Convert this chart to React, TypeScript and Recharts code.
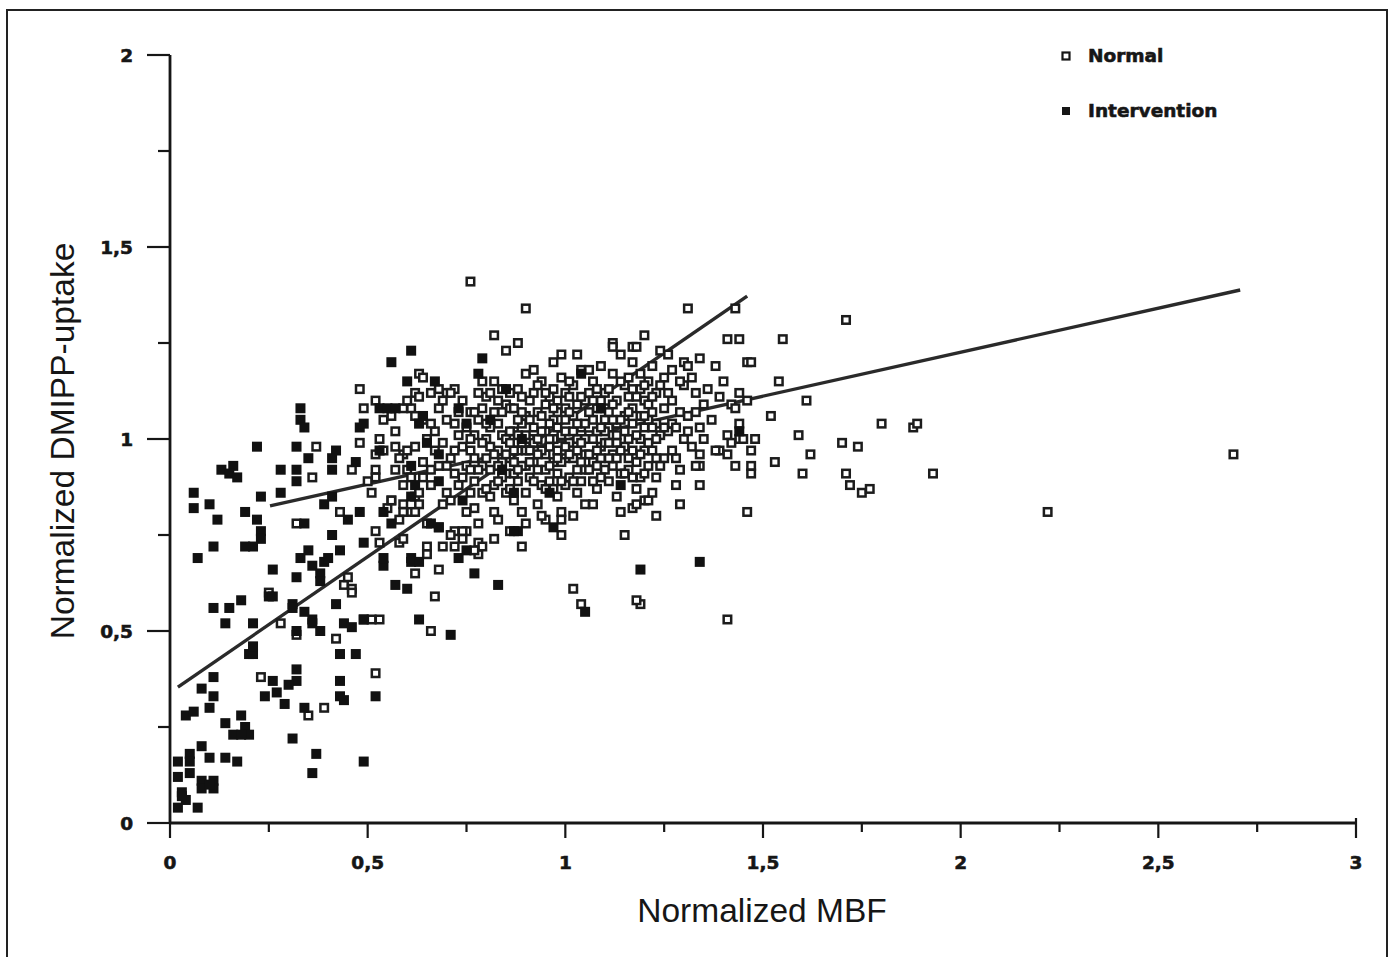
import React from 'react';
import { ScatterChart, Scatter, XAxis, YAxis, ReferenceLine, Legend, Label } from 'recharts';

// ---------- axis ticks ----------
const xTicks = [0, 0.25, 0.5, 0.75, 1, 1.25, 1.5, 1.75, 2, 2.25, 2.5, 2.75, 3];
const yTicks = [0, 0.25, 0.5, 0.75, 1, 1.25, 1.5, 1.75, 2];

// ---------- Normal (hollow squares) ----------
const normalOutliers: [number, number][] = [
  [0.76, 1.41], [0.90, 1.34], [0.82, 1.27], [0.85, 1.23], [0.88, 1.25], [0.99, 1.22], [1.17, 1.24], [1.12, 1.25],
  [1.12, 1.24], [1.31, 1.34], [1.43, 1.34], [1.71, 1.31], [1.20, 1.27], [1.41, 1.26], [1.44, 1.26], [1.55, 1.26],
  [1.34, 1.21], [1.46, 1.20], [1.47, 1.20], [1.54, 1.15], [1.61, 1.10], [1.42, 1.09], [1.46, 1.10], [1.52, 1.06],
  [1.44, 1.04], [1.59, 1.01], [1.70, 0.99], [1.39, 0.97], [1.41, 0.96], [1.44, 1.00], [1.45, 1.00], [1.48, 1.00],
  [1.47, 0.97], [1.43, 0.93], [1.47, 0.93], [1.47, 0.91], [1.53, 0.94], [1.62, 0.96], [1.60, 0.91], [1.71, 0.91],
  [1.72, 0.88], [1.75, 0.86], [1.77, 0.87], [1.80, 1.04], [1.88, 1.03], [1.89, 1.04], [1.74, 0.98], [1.93, 0.91],
  [2.22, 0.81], [2.69, 0.96], [1.34, 0.93], [1.34, 0.88], [1.29, 0.83], [1.23, 0.80], [1.20, 0.84], [1.21, 0.84],
  [1.17, 0.82], [1.46, 0.81], [1.19, 0.57], [1.41, 0.53], [0.95, 0.79], [0.99, 0.79], [0.99, 0.75], [0.89, 0.72],
  [1.15, 0.75], [1.02, 0.61], [1.04, 0.57], [1.18, 0.58], [0.67, 0.59], [0.66, 0.50], [0.68, 0.66], [0.65, 0.72],
  [0.65, 0.70], [0.78, 0.73], [0.78, 0.70], [0.75, 0.76], [0.72, 0.76], [0.72, 0.72],
];

const normalLeft: [number, number][] = [
  [0.25, 0.60], [0.28, 0.52], [0.32, 0.49], [0.44, 0.62], [0.46, 0.61], [0.46, 0.60], [0.45, 0.64], [0.42, 0.48],
  [0.49, 0.53], [0.51, 0.53], [0.53, 0.53], [0.52, 0.39], [0.23, 0.38], [0.35, 0.28], [0.39, 0.30], [0.62, 0.65],
  [0.48, 1.13], [0.49, 1.08], [0.52, 1.10], [0.59, 1.08], [0.61, 1.08], [0.62, 1.12], [0.63, 1.17], [0.64, 1.16],
  [0.37, 0.98], [0.48, 0.99], [0.36, 0.90], [0.46, 0.92], [0.52, 0.92], [0.54, 0.97], [0.57, 0.98], [0.59, 0.96],
  [0.57, 0.92], [0.52, 0.90], [0.51, 0.86], [0.56, 0.84], [0.59, 0.83], [0.62, 0.85], [0.63, 0.83], [0.61, 0.81],
  [0.59, 0.81], [0.43, 0.81], [0.32, 0.78], [0.52, 0.76], [0.53, 0.73], [0.58, 0.73], [0.59, 0.74],
  [0.52, 0.96], [0.54, 1.05], [0.50, 0.89], [0.55, 0.82], [0.53, 1.00],
];

const normalCluster: [number, number][] = [
  [0.56, 0.84], [0.58, 0.95], [0.57, 1.02], [0.59, 0.88], [0.60, 1.10], [0.58, 0.79], [0.56, 1.06], [0.60, 0.92],
  [0.62, 0.98], [0.63, 0.86], [0.64, 1.05], [0.61, 0.90], [0.65, 0.78], [0.63, 1.11], [0.64, 0.94], [0.62, 0.81], [0.65, 1.00],
  [0.66, 0.88], [0.67, 0.97], [0.68, 1.08], [0.69, 0.83], [0.70, 0.93], [0.67, 1.02], [0.68, 0.77], [0.70, 1.12], [0.66, 0.92], [0.69, 0.99], [0.70, 0.86],
  [0.71, 0.95], [0.72, 1.04], [0.73, 0.88], [0.74, 0.98], [0.75, 0.81], [0.72, 0.91], [0.74, 1.10], [0.73, 1.01], [0.75, 0.93], [0.71, 0.84], [0.74, 0.76], [0.72, 1.13],
  [0.76, 0.97], [0.77, 0.89], [0.78, 1.05], [0.79, 0.93], [0.80, 1.00], [0.77, 0.82], [0.78, 0.78], [0.80, 1.11], [0.76, 1.07], [0.79, 0.86], [0.80, 0.95], [0.77, 1.01], [0.79, 1.15], [0.76, 0.92],
  [0.81, 0.98], [0.82, 0.88], [0.83, 1.04], [0.84, 0.94], [0.85, 1.09], [0.82, 0.81], [0.83, 0.97], [0.85, 0.86], [0.81, 1.12], [0.84, 1.01], [0.82, 1.15], [0.85, 0.91], [0.83, 0.79], [0.84, 1.07], [0.81, 0.92],
  [0.86, 0.95], [0.87, 1.02], [0.88, 0.89], [0.89, 0.99], [0.90, 1.06], [0.87, 0.84], [0.88, 1.13], [0.90, 0.93], [0.86, 1.08], [0.89, 0.81], [0.88, 0.97], [0.90, 1.17], [0.87, 0.91], [0.89, 1.04], [0.86, 0.87], [0.90, 0.86],
  [0.91, 1.00], [0.92, 0.94], [0.93, 1.07], [0.94, 0.88], [0.95, 1.02], [0.92, 1.12], [0.93, 0.83], [0.95, 0.96], [0.91, 0.90], [0.94, 1.15], [0.92, 0.99], [0.95, 1.09], [0.93, 0.92], [0.91, 1.05], [0.94, 0.80], [0.95, 0.87], [0.92, 1.18],
  [0.96, 0.98], [0.97, 1.05], [0.98, 0.91], [0.99, 1.01], [1.00, 0.95], [0.97, 1.13], [0.98, 0.85], [1.00, 1.08], [0.96, 0.89], [0.99, 1.16], [0.97, 0.94], [1.00, 0.88], [0.96, 1.04], [0.98, 1.10], [0.99, 0.81], [1.00, 1.02], [0.97, 1.20], [0.98, 0.97],
  [1.01, 0.99], [1.02, 1.06], [1.03, 0.92], [1.04, 1.03], [1.05, 0.96], [1.02, 1.14], [1.03, 0.86], [1.05, 1.10], [1.01, 0.90], [1.04, 1.18], [1.02, 0.95], [1.05, 0.83], [1.01, 1.07], [1.03, 1.00], [1.04, 0.89], [1.05, 1.04], [1.02, 0.80], [1.03, 1.22],
  [1.06, 1.01], [1.07, 0.94], [1.08, 1.08], [1.09, 0.98], [1.10, 1.05], [1.07, 1.15], [1.08, 0.87], [1.10, 0.92], [1.06, 1.12], [1.09, 1.19], [1.07, 0.83], [1.10, 1.12], [1.06, 0.96], [1.08, 1.02], [1.09, 0.90], [1.10, 0.99], [1.07, 1.05],
  [1.11, 1.03], [1.12, 0.96], [1.13, 1.10], [1.14, 0.91], [1.15, 1.06], [1.12, 1.17], [1.13, 0.85], [1.15, 0.98], [1.11, 1.13], [1.14, 1.22], [1.12, 1.01], [1.15, 1.14], [1.11, 0.89], [1.13, 1.04], [1.14, 0.81], [1.12, 0.93],
  [1.16, 1.00], [1.17, 1.08], [1.18, 0.94], [1.19, 1.13], [1.20, 1.03], [1.17, 1.20], [1.18, 0.87], [1.20, 0.97], [1.16, 1.16], [1.19, 0.90], [1.17, 1.04], [1.20, 1.10], [1.16, 0.92], [1.18, 1.24], [1.19, 1.06], [1.18, 0.83],
  [1.21, 1.05], [1.22, 0.97], [1.23, 1.12], [1.24, 1.01], [1.25, 1.08], [1.22, 1.19], [1.23, 0.90], [1.25, 0.95], [1.21, 1.15], [1.24, 1.23], [1.22, 0.86], [1.25, 1.16], [1.21, 0.99], [1.23, 1.04],
  [1.26, 1.02], [1.27, 1.10], [1.28, 0.95], [1.29, 1.07], [1.30, 1.14], [1.27, 1.18], [1.28, 0.88], [1.30, 1.00], [1.26, 1.22], [1.29, 0.92], [1.27, 1.04], [1.30, 1.20],
  [1.31, 1.06], [1.32, 0.98], [1.33, 1.12], [1.34, 1.03], [1.35, 1.09], [1.32, 1.16], [1.33, 0.93], [1.35, 1.00], [1.31, 1.19], [1.34, 0.96],
  [1.37, 1.05], [1.39, 1.11], [1.41, 1.01], [1.38, 0.97], [1.40, 1.15], [1.43, 1.08], [1.36, 1.13], [1.42, 0.99], [1.44, 1.12], [1.38, 1.19],
  [0.74, 0.74], [0.79, 0.72], [0.86, 0.76], [0.82, 0.74], [0.90, 0.78], [0.77, 0.71], [0.69, 0.72], [0.71, 0.75],
  [0.66, 1.12], [0.68, 1.13], [0.71, 1.12],
];

const normalCore: [number, number][] = [
  [0.76, 1.00], [0.78, 0.92], [0.79, 1.08], [0.80, 0.87], [0.81, 1.03], [0.82, 0.96], [0.83, 1.10], [0.84, 0.90],
  [0.85, 1.00], [0.86, 1.12], [0.87, 0.97], [0.88, 1.05], [0.89, 0.93], [0.90, 1.01], [0.91, 1.10], [0.92, 0.89],
  [0.93, 1.00], [0.94, 1.06], [0.95, 0.92], [0.96, 1.11], [0.97, 0.87], [0.98, 1.03], [0.99, 0.94], [1.00, 1.12],
  [1.01, 0.96], [1.02, 1.02], [1.03, 1.09], [1.04, 0.94], [1.05, 1.00], [1.06, 1.07], [1.07, 0.89], [1.08, 0.97],
  [1.09, 1.10], [1.10, 1.02], [1.11, 0.95], [1.12, 1.09], [1.13, 0.99], [1.14, 1.05], [1.15, 0.91], [1.16, 1.07],
  [1.17, 0.97], [1.18, 1.11], [1.19, 1.00], [1.20, 0.91], [1.21, 1.09], [1.22, 1.03], [1.23, 0.95], [1.24, 1.14],
  [0.77, 0.95], [0.78, 1.12], [0.80, 1.04], [0.81, 0.85], [0.83, 0.93], [0.84, 1.13], [0.85, 0.96], [0.86, 1.02],
  [0.87, 1.08], [0.88, 0.92], [0.89, 1.11], [0.90, 0.97], [0.91, 0.94], [0.92, 1.03], [0.93, 1.14], [0.94, 0.97],
  [0.95, 1.12], [0.96, 0.93], [0.97, 1.00], [0.98, 1.07], [0.99, 0.89], [1.00, 1.05], [1.01, 1.15], [1.02, 0.89],
  [1.03, 0.97], [1.04, 1.11], [1.05, 0.92], [1.06, 1.18], [1.07, 1.00], [1.08, 1.13], [1.09, 0.95], [1.10, 1.08],
  [1.11, 0.99], [1.12, 1.05], [1.13, 0.95], [1.14, 1.15], [1.15, 1.02], [1.16, 0.95], [1.17, 1.13], [1.18, 1.01],
  [1.19, 1.17], [1.20, 1.06], [1.21, 0.93], [1.22, 1.11], [1.23, 1.00], [1.24, 0.93], [1.25, 1.03],
  [0.70, 1.05], [0.72, 0.97], [0.73, 1.07], [0.74, 0.90], [0.75, 1.03], [0.76, 0.86], [0.77, 1.07], [0.79, 0.99],
  [0.82, 1.07], [0.83, 0.89], [0.86, 0.99], [0.87, 0.94], [0.88, 1.01], [0.89, 1.07], [0.91, 0.97], [0.93, 0.96],
  [0.94, 1.02], [0.96, 1.00], [0.97, 1.08], [0.98, 0.95], [1.00, 0.98], [1.01, 1.11], [1.03, 1.04], [1.04, 0.99],
  [1.06, 0.92], [1.07, 1.10], [1.08, 0.93], [1.09, 1.03], [1.11, 1.07], [1.13, 1.01], [1.14, 0.97], [1.16, 1.11],
  [1.17, 0.90], [1.19, 0.96], [1.20, 1.14], [1.22, 1.07], [1.26, 1.12], [1.28, 1.03], [1.29, 1.15], [1.31, 1.02],
  [1.33, 1.07], [1.27, 0.97], [0.68, 0.93], [0.66, 1.04], [0.64, 0.90], [0.62, 1.06], [0.60, 0.97], [0.69, 1.10],
];

// ---------- Intervention (filled squares) ----------
const interventionPoints: [number, number][] = [
  [0.07, 0.69], [0.26, 0.66], [0.32, 0.64], [0.36, 0.67], [0.38, 0.65], [0.39, 0.68], [0.38, 0.63], [0.11, 0.56],
  [0.15, 0.56], [0.18, 0.58], [0.14, 0.52], [0.21, 0.52], [0.25, 0.59], [0.26, 0.59], [0.31, 0.57], [0.31, 0.56],
  [0.34, 0.55], [0.36, 0.53], [0.38, 0.50], [0.36, 0.52], [0.32, 0.50], [0.42, 0.57], [0.44, 0.52], [0.46, 0.51],
  [0.57, 0.62], [0.60, 0.61], [0.54, 0.67], [0.61, 0.68], [0.63, 0.53], [0.49, 0.53], [0.20, 0.44], [0.21, 0.44],
  [0.21, 0.46], [0.11, 0.38], [0.08, 0.35], [0.11, 0.33], [0.10, 0.30], [0.04, 0.28], [0.06, 0.29], [0.26, 0.37],
  [0.27, 0.34], [0.29, 0.31], [0.32, 0.40], [0.32, 0.37], [0.30, 0.36], [0.24, 0.33], [0.34, 0.30], [0.43, 0.44],
  [0.47, 0.44], [0.43, 0.37], [0.43, 0.33], [0.44, 0.32], [0.52, 0.33], [0.18, 0.28], [0.14, 0.26], [0.19, 0.25],
  [0.20, 0.23], [0.16, 0.23], [0.18, 0.23], [0.31, 0.22], [0.37, 0.18], [0.36, 0.13], [0.49, 0.16], [0.08, 0.20],
  [0.10, 0.17], [0.05, 0.18], [0.05, 0.16], [0.14, 0.17], [0.17, 0.16], [0.02, 0.16], [0.02, 0.12], [0.05, 0.13],
  [0.08, 0.11], [0.08, 0.09], [0.11, 0.11], [0.11, 0.09], [0.10, 0.10], [0.03, 0.08], [0.02, 0.04], [0.04, 0.06],
  [0.03, 0.07], [0.07, 0.04],
  [0.61, 1.23], [0.56, 1.20], [0.60, 1.15], [0.33, 1.08], [0.33, 1.05], [0.34, 1.03], [0.22, 0.98], [0.32, 0.98],
  [0.35, 0.95], [0.42, 0.97], [0.41, 0.95], [0.47, 0.94], [0.16, 0.93], [0.13, 0.92], [0.15, 0.91], [0.17, 0.90],
  [0.28, 0.92], [0.32, 0.92], [0.32, 0.89], [0.41, 0.92], [0.06, 0.86], [0.06, 0.82], [0.10, 0.83], [0.12, 0.79],
  [0.23, 0.85], [0.28, 0.86], [0.19, 0.81], [0.22, 0.79], [0.23, 0.76], [0.23, 0.74], [0.21, 0.72], [0.19, 0.72],
  [0.34, 0.78], [0.41, 0.75], [0.11, 0.72], [0.33, 0.69], [0.35, 0.71], [0.40, 0.69], [0.43, 0.71], [0.39, 0.83],
  [0.41, 0.85], [0.45, 0.79], [0.48, 0.81], [0.49, 0.73], [0.48, 1.03], [0.49, 1.04], [0.53, 0.97], [0.54, 0.81],
  [0.56, 0.78], [0.53, 1.08], [0.55, 1.08], [0.57, 1.08], [0.63, 1.04], [0.61, 0.93], [0.62, 0.88], [0.61, 0.85],
  [0.54, 0.69], [0.61, 0.69], [0.63, 0.68],
  [1.44, 1.02], [1.19, 0.66], [1.34, 0.68], [1.05, 0.55], [0.79, 1.21], [0.67, 1.15], [0.85, 1.13], [0.77, 0.65],
  [0.83, 0.62], [0.71, 0.49], [0.73, 0.69], [0.75, 0.71], [0.97, 0.77], [0.88, 0.76],
  [0.78, 1.17], [0.64, 1.06], [0.65, 0.99], [0.68, 0.96], [0.73, 1.08], [0.75, 1.04], [0.81, 1.05], [0.68, 0.89],
  [0.74, 0.84], [0.84, 0.92], [0.87, 0.86], [0.89, 1.00], [0.96, 0.86], [1.14, 0.88], [1.04, 1.17], [1.09, 1.08],
  [0.66, 0.78], [0.68, 0.77], [0.87, 0.76],
];

// ---------- regression lines (end points, data units) ----------
const steepFit = [{ x: 0.02, y: 0.354 }, { x: 1.46, y: 1.372 }];
const shallowFit = [{ x: 0.253, y: 0.826 }, { x: 2.707, y: 1.388 }];

const legendItems = [
  { name: 'Normal', filled: false },
  { name: 'Intervention', filled: true },
];

const xTitle = 'Normalized MBF';
const yTitle = 'Normalized DMIPP-uptake';

const toObjects = (arr: [number, number][]) => arr.map(([x, y]) => ({ x, y }));
const normalData = toObjects([...normalOutliers, ...normalLeft, ...normalCluster, ...normalCore]);
const interventionData = toObjects(interventionPoints);

const fmt = (v: number) => String(v).replace('.', ',');
const isMajor = (v: number) => Math.abs(v * 2 - Math.round(v * 2)) < 1e-9;

const INK = '#161616';
const TICK_FONT = '"DejaVu Sans", Verdana, sans-serif';
const TITLE_FONT = '"Liberation Sans", Arial, Helvetica, sans-serif';

function XTick(props: any) {
  const { x, y, payload } = props;
  const v = payload.value as number;
  const major = isMajor(v);
  const top = v === xTicks[xTicks.length - 1] ? y - 5 : y;
  return (
    <g>
      <line x1={x} x2={x} y1={top} y2={y + (major ? 15 : 9)} stroke={INK} strokeWidth={2.2} />
      {major && (
        <text x={x} y={y + 46} textAnchor="middle" fontFamily={TICK_FONT} fontWeight="bold" fontSize={18.5}
          fill={INK} stroke={INK} strokeWidth={0.6}>
          {fmt(v)}
        </text>
      )}
    </g>
  );
}

function YTick(props: any) {
  const { x, y, payload } = props;
  const v = payload.value as number;
  const major = isMajor(v);
  return (
    <g>
      <line x1={x - (major ? 23 : 12)} x2={x} y1={y} y2={y} stroke={INK} strokeWidth={2.2} />
      {major && (
        <text x={x - 37} y={y + 6.5} textAnchor="end" fontFamily={TICK_FONT} fontWeight="bold" fontSize={18.5}
          fill={INK} stroke={INK} strokeWidth={0.6}>
          {fmt(v)}
        </text>
      )}
    </g>
  );
}

function HollowSquare(props: any) {
  const { cx, cy } = props;
  if (cx == null || cy == null) return <g />;
  return <rect x={cx - 3.75} y={cy - 3.75} width={7.5} height={7.5} fill="#ffffff" stroke="#1c1c1c" strokeWidth={2.5} />;
}

function FilledSquare(props: any) {
  const { cx, cy } = props;
  if (cx == null || cy == null) return <g />;
  return <rect x={cx - 5} y={cy - 5} width={10} height={10} fill="#111111" stroke="none" />;
}

function LegendBox() {
  return (
    <svg width={220} height={100} style={{ display: 'block' }}>
      {legendItems.map((item, i) => (
        <g key={item.name}>
          {item.filled ? (
            <rect x={7} y={14 + i * 55} width={8} height={8} fill={INK} />
          ) : (
            <rect x={7.5} y={14.5 + i * 55} width={7} height={7} fill="#fff" stroke={INK} strokeWidth={2.2} />
          )}
          <text x={33} y={24 + i * 55} fontFamily={TICK_FONT} fontWeight="bold" fontSize={18.5}
            fill={INK} stroke={INK} strokeWidth={0.6}>
            {item.name}
          </text>
        </g>
      ))}
    </svg>
  );
}

function XTitle(props: any) {
  const vb = props.viewBox || { x: 170, y: 823, width: 1186, height: 134 };
  return (
    <text x={vb.x + vb.width / 2 - 1} y={vb.y + 99} textAnchor="middle" fontFamily={TITLE_FONT} fontSize={33.5} fill={INK}>
      {xTitle}
    </text>
  );
}

function YTitle(props: any) {
  const vb = props.viewBox || { x: 0, y: 55, width: 170, height: 768 };
  const cx = 74;
  const cy = vb.y + vb.height / 2 + 2;
  return (
    <text x={cx} y={cy} transform={`rotate(-90, ${cx}, ${cy})`} textAnchor="middle" fontFamily={TITLE_FONT} fontSize={33.5} fill={INK}>
      {yTitle}
    </text>
  );
}

export default function App() {
  return (
    <div style={{ position: 'absolute', left: 0, top: 0, width: 1390, height: 957, background: '#fff', overflow: 'hidden' }}>
      <div
        style={{
          position: 'absolute',
          left: 6,
          top: 9,
          width: 1382,
          height: 980,
          border: '2px solid #222',
          boxSizing: 'border-box',
        }}
      />
      <div style={{ position: 'absolute', left: 0, top: 0 }}>
        <ScatterChart width={1390} height={957} margin={{ top: 55, right: 34, bottom: 0, left: 0 }}>
          <XAxis
            type="number"
            dataKey="x"
            domain={[0, 3]}
            ticks={xTicks}
            interval={0}
            height={134}
            tickSize={0}
            tickMargin={0}
            tickLine={false}
            tick={<XTick />}
            axisLine={{ stroke: INK, strokeWidth: 2.8 }}
            allowDataOverflow
          >
            <Label content={<XTitle />} />
          </XAxis>
          <YAxis
            type="number"
            dataKey="y"
            domain={[0, 2]}
            ticks={yTicks}
            interval={0}
            width={170}
            tickSize={0}
            tickMargin={0}
            tickLine={false}
            tick={<YTick />}
            axisLine={{ stroke: INK, strokeWidth: 2.8 }}
            allowDataOverflow
          >
            <Label content={<YTitle />} />
          </YAxis>
          <Legend
            layout="vertical"
            align="center"
            verticalAlign="middle"
            content={<LegendBox />}
            wrapperStyle={{ left: 1055, top: 38, width: 220, height: 100 }}
          />
          <Scatter name="Normal" data={normalData} shape={HollowSquare} isAnimationActive={false} />
          <Scatter name="Intervention" data={interventionData} shape={FilledSquare} isAnimationActive={false} />
          <ReferenceLine segment={steepFit} stroke="#2a2a2a" strokeWidth={3.4} ifOverflow="visible" />
          <ReferenceLine segment={shallowFit} stroke="#2a2a2a" strokeWidth={3.4} ifOverflow="visible" />
        </ScatterChart>
      </div>
    </div>
  );
}
